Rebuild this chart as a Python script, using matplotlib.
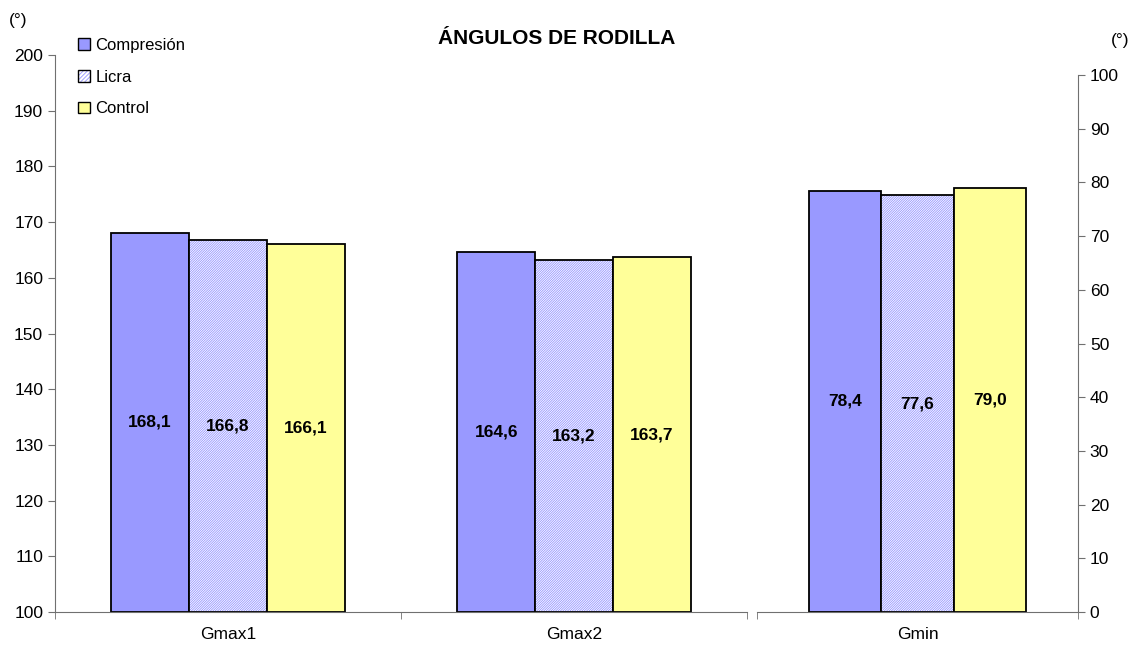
import matplotlib
matplotlib.use("Agg")
import numpy as np
from matplotlib import pyplot as plt
from matplotlib.patches import Patch

plt.rcParams['font.family'] = ['Liberation Sans', 'DejaVu Sans']
plt.rcParams['hatch.linewidth'] = 0.6

# data
series = ['Compresión', 'Licra', 'Control']
left_cats = ['Gmax1', 'Gmax2']
right_cats = ['Gmin']
left_vals = {'Compresión': [168.1, 164.6], 'Licra': [166.8, 163.2], 'Control': [166.1, 163.7]}
right_vals = {'Compresión': [78.4], 'Licra': [77.6], 'Control': [79.0]}
left_ticks = np.arange(100, 201, 10)
right_ticks = np.arange(0, 101, 10)

BLUE = '#9999FF'
HATCH_BLUE = '#9494FF'
YELLOW = '#FFFF99'
SPINE = '#707070'
HATCH = '/' * 14

W, H = 1133, 651
fig = plt.figure(figsize=(W / 100, H / 100), dpi=100)
ax1 = fig.add_axes([55 / W, (H - 612) / H, (747 - 55) / W, (612 - 55) / H])
ax2 = fig.add_axes([757 / W, (H - 612) / H, (1078 - 757) / W, (612 - 75) / H])


def fmt(v):
    return f'{v:.1f}'.replace('.', ',')


def draw_group(ax, cats, vals, bottom):
    x = np.arange(len(cats))
    bw = 0.225
    for i, s in enumerate(series):
        pos = x + (i - 1) * bw
        v = np.array(vals[s])
        h = v - bottom
        if s == 'Licra':
            ax.bar(pos, h, bw, bottom=bottom, color='white', hatch=HATCH,
                   edgecolor=HATCH_BLUE, linewidth=0)
            ax.bar(pos, h, bw, bottom=bottom, fill=False,
                   edgecolor='black', linewidth=1.3)
        else:
            ax.bar(pos, h, bw, bottom=bottom,
                   color=BLUE if s == 'Compresión' else YELLOW,
                   edgecolor='black', linewidth=1.3)
        for p, val in zip(pos, v):
            ax.text(p, bottom + (val - bottom) / 2, fmt(val), ha='center',
                    va='center', fontsize=12.5, fontweight='bold')
    ax.set_xlim(-0.5, len(cats) - 0.5)
    ax.set_xticks(x)
    ax.set_xticklabels(cats, fontsize=12.5)
    ax.set_xticks(np.arange(len(cats) + 1) - 0.5, minor=True)
    ax.tick_params(axis='x', which='major', length=0, pad=11)
    ax.tick_params(axis='x', which='minor', length=5, color=SPINE, direction='out')
    ax.spines['top'].set_visible(False)
    for sp in ax.spines.values():
        sp.set_color(SPINE)


draw_group(ax1, left_cats, left_vals, 100)
ax1.set_ylim(100, 200)
ax1.set_yticks(left_ticks)
ax1.tick_params(axis='y', labelsize=12.5, length=5, color=SPINE)
ax1.spines['right'].set_visible(False)

draw_group(ax2, right_cats, right_vals, 0)
ax2.set_ylim(0, 100)
ax2.set_yticks(right_ticks)
ax2.yaxis.tick_right()
ax2.tick_params(axis='y', labelsize=12.5, length=5, color=SPINE)
ax2.spines['left'].set_visible(False)

fig.text(557 / W, 1 - 38 / H, 'ÁNGULOS DE RODILLA', ha='center', va='center',
         fontsize=15, fontweight='bold')
fig.text(18 / W, 1 - 20 / H, '(°)', ha='center', va='center', fontsize=12.5)
fig.text(1120 / W, 1 - 40 / H, '(°)', ha='center', va='center', fontsize=12.5)

handles = [Patch(facecolor=BLUE, edgecolor='black'),
           (Patch(facecolor='white', edgecolor=HATCH_BLUE, hatch='/' * 8, linewidth=0),
            Patch(fill=False, edgecolor='black')),
           Patch(facecolor=YELLOW, edgecolor='black')]
fig.legend(handles, series, loc='upper left', bbox_to_anchor=(78 / W, 1 - 38 / H),
           frameon=False, fontsize=12, handlelength=0.7, handleheight=0.7,
           handletextpad=0.35, labelspacing=1.0, borderpad=0, borderaxespad=0)

fig.savefig('out.png', dpi=100)
